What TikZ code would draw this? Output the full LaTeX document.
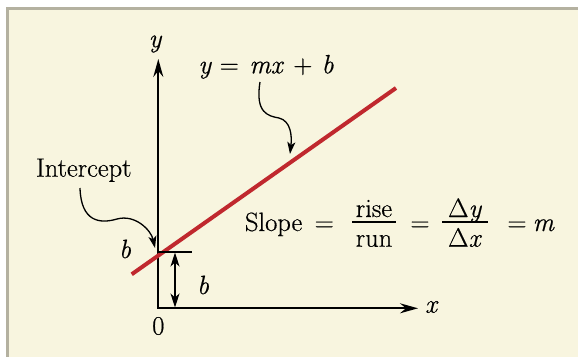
\documentclass[tikz,border=0pt]{standalone}
\usepackage{fontspec}
\setmainfont{Latin Modern Roman}[UprightFeatures={FakeBold=0.5},ItalicFeatures={FakeBold=0.5}]
\usetikzlibrary{arrows.meta}
\definecolor{panelfill}{RGB}{248,245,223}
\definecolor{panelframe}{RGB}{180,177,160}
\definecolor{redline}{RGB}{192,40,46}
\begin{document}
\begin{tikzpicture}[x=1pt,y=-1pt,
  txt/.style={inner sep=0pt,outer sep=0pt,font=\fontsize{26.5}{31}\selectfont},
  itx/.style={txt,font=\fontsize{26.5}{31}\selectfont\itshape},
  axisline/.style={line width=1.8pt,line join=miter},
  curvy/.style={line width=1.3pt,-{Stealth[length=12pt,width=8pt,inset=3pt]}},
  fracbar/.style={line width=1.8pt}]
\useasboundingbox (0,0) rectangle (578,356);
\clip (0,0) rectangle (578,356);
\fill[white] (0,0) rectangle (578,356);
\draw[line width=2.2pt,draw=panelframe,fill=panelfill] (7.5,8.5) rectangle (600,380);
% axes
\coordinate (O) at (158.3,308.3);
\coordinate (ytip) at (158.3,59);
\coordinate (xtip) at (418,308.3);
\draw[axisline,{Stealth[length=18pt,width=10pt,inset=6pt]}-{Stealth[length=18pt,width=10pt,inset=6pt]}] (ytip) -- (O) -- (xtip);
\node[itx] (ylab) at (155,44) {y};
\node[itx] (xlab) at (431,307) {x};
\node[txt] (zero) at (158.3,326) {0};
% red line
\coordinate (rA) at (131.7,274.3);
\coordinate (rB) at (396,88);
\draw[redline,line width=4pt] (rA) -- (rB);
% tick and b arrow
\coordinate (tk1) at (158.3,251.7);
\coordinate (tk2) at (192,251.7);
\draw[axisline] (tk1) -- (tk2);
\coordinate (bt) at (175,252.5);
\coordinate (bb) at (175,307.5);
\draw[line width=1.6pt,{Stealth[length=14pt,width=9pt,inset=4pt]}-{Stealth[length=14pt,width=9pt,inset=4pt]}] (bt) -- (bb);
\node[itx] (bright) at (203,285) {b};
\node[itx] (bleft) at (125,249) {b};
% Intercept
\node[txt,anchor=base] (intercept) at (83.8,176.7) {Intercept};
\coordinate (ia) at (80,188);
\coordinate (ib) at (155,248);
\draw[curvy] (ia) .. controls (81,222) and (100,224) .. (117,219) .. controls (135,214) and (151,230) .. (ib);
% y = mx + b
\node[txt,anchor=base] (eqn) at (266,73.3) {\textit{y}\hspace{0.3em}=\hspace{0.4em}\textit{mx}\hspace{0.35em}+\hspace{0.35em}\textit{b}};
\coordinate (ma) at (260,82);
\coordinate (mb) at (290,154);
\draw[curvy] (ma) .. controls (255,113) and (268,116) .. (279,118) .. controls (291,121) and (292,136) .. (mb);
% slope equation
\node[txt,anchor=base west] (slope) at (245,231) {Slope};
\node[txt,anchor=base] (eq1) at (324.3,231) {=};
\node[txt,anchor=base] (rise) at (374,217) {rise};
\node[txt,anchor=base] (run) at (374,246.7) {run};
\coordinate (f1a) at (352,221.7);
\coordinate (f1b) at (396,221.7);
\draw[fracbar] (f1a) -- (f1b);
\node[txt,anchor=base] (eq2) at (420,231) {=};
\node[txt,anchor=base] (dy) at (465,217) {Δ\textit{y}};
\node[txt,anchor=base] (dx) at (465,246.7) {Δ\textit{x}};
\coordinate (f2a) at (442,221.7);
\coordinate (f2b) at (488,221.7);
\draw[fracbar] (f2a) -- (f2b);
\node[txt,anchor=base] (eq3) at (517,231) {=};
\node[txt,anchor=base] (mm) at (543.6,231) {\textit{m}};
\end{tikzpicture}
\end{document}
